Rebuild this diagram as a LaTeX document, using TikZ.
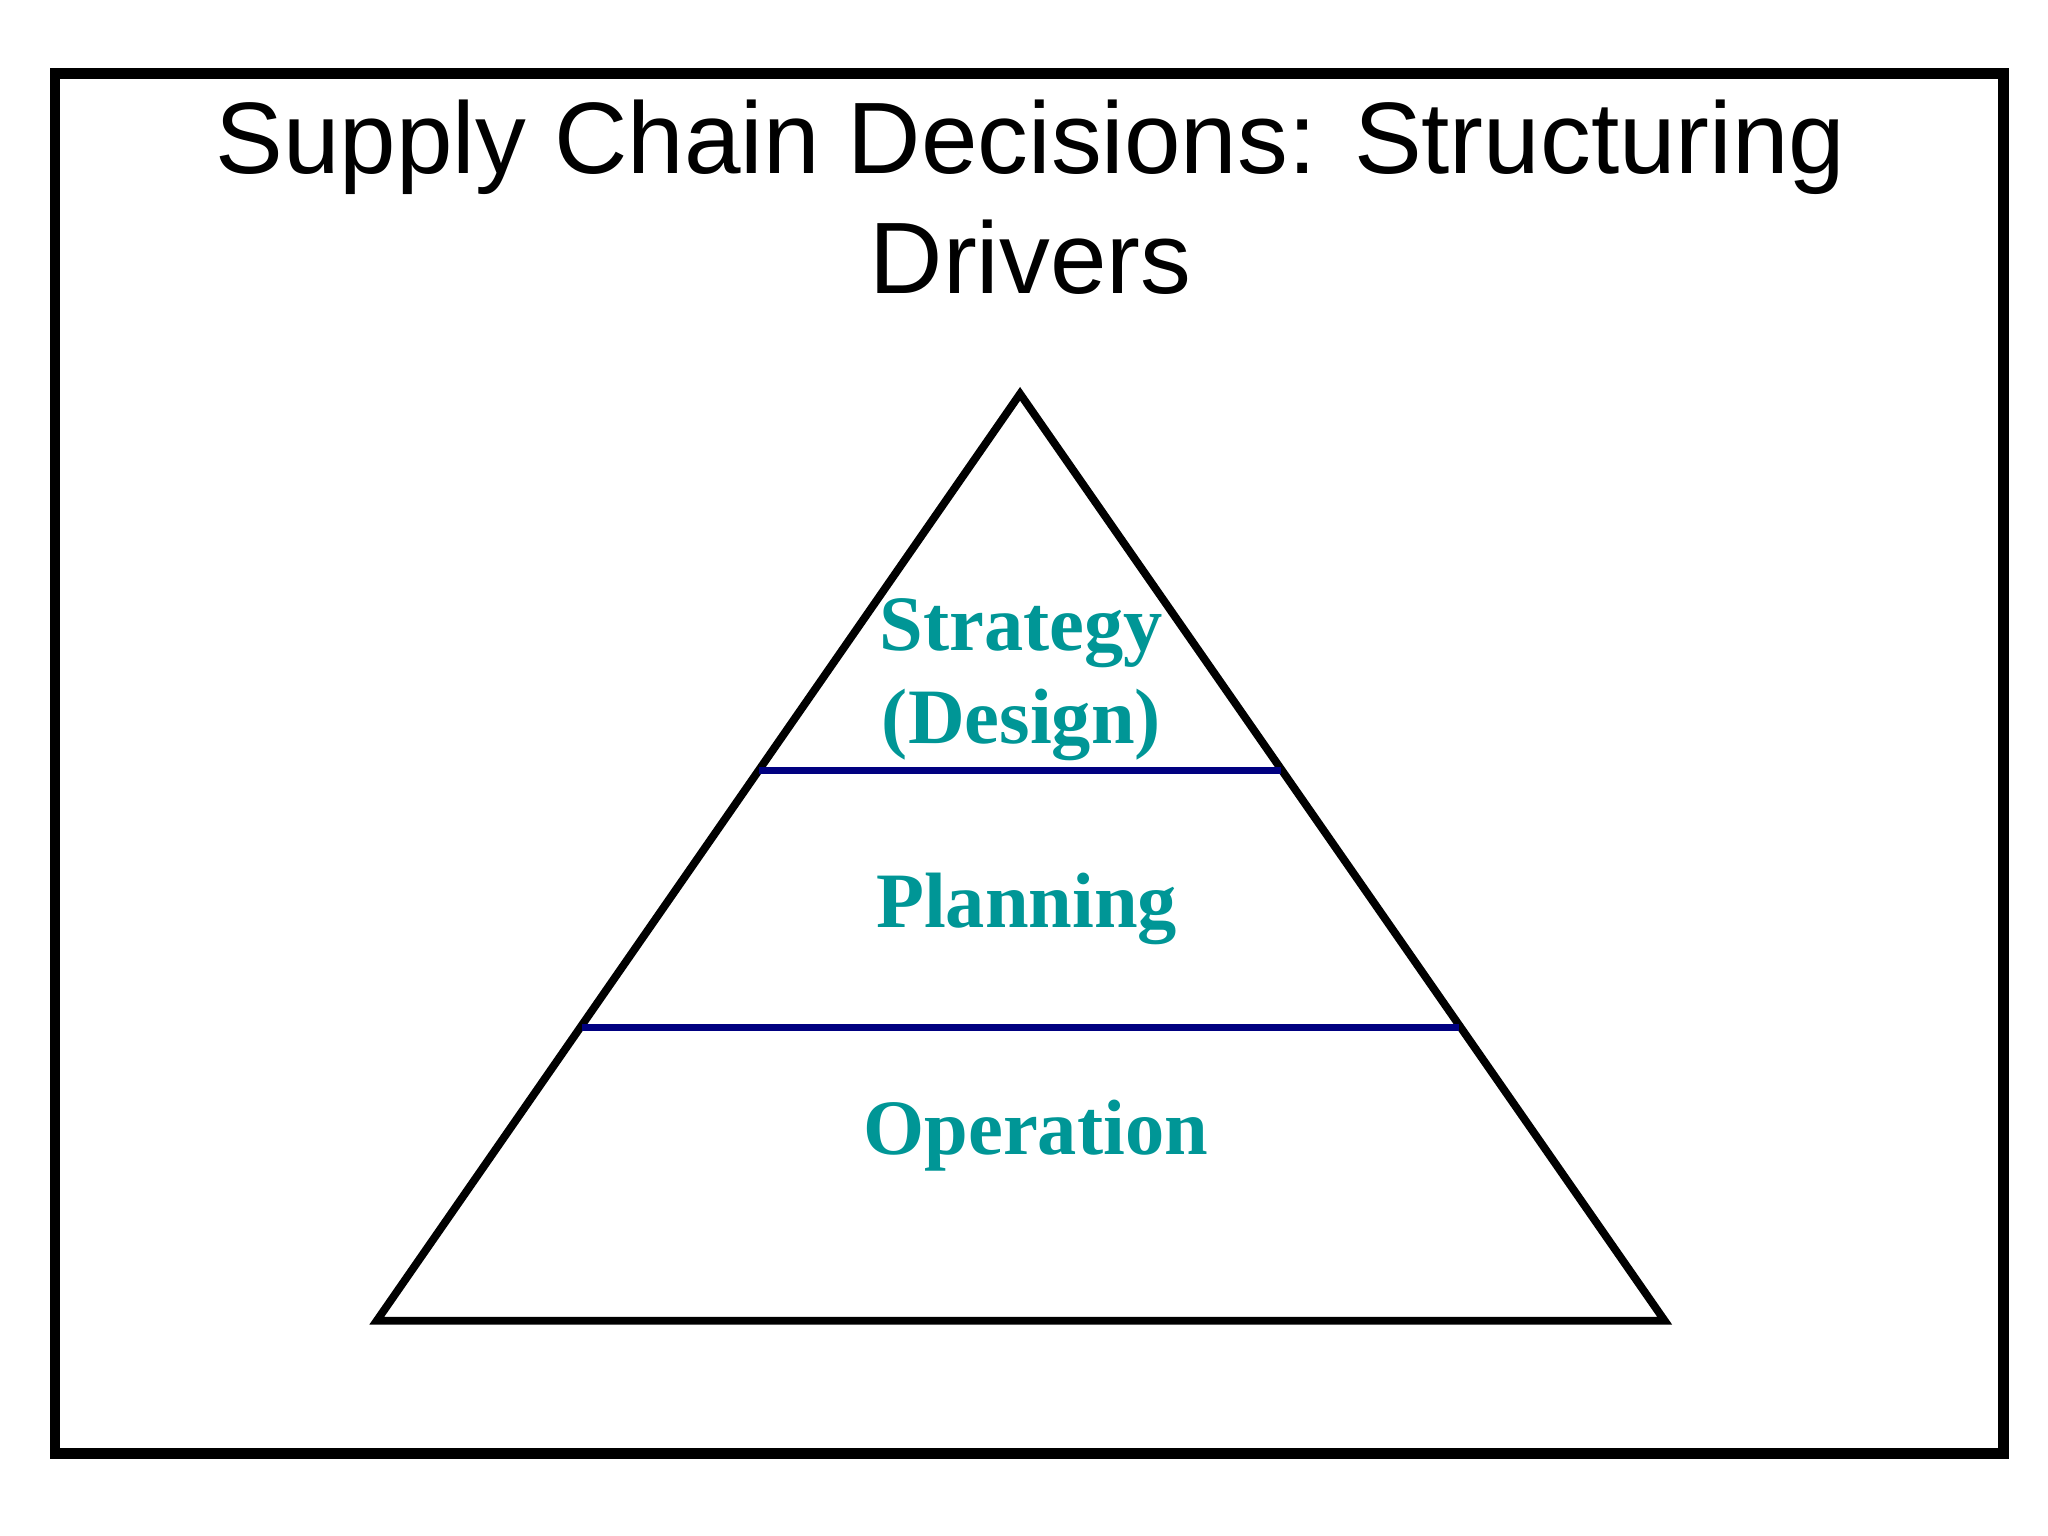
\documentclass[tikz,border=0pt]{standalone}
\usepackage{fontspec}
\setmainfont{Liberation Serif}
\newfontfamily\titlefont{Liberation Sans}
\definecolor{tealtxt}{RGB}{0,150,150}
\definecolor{navyln}{RGB}{0,0,128}
\begin{document}
\begin{tikzpicture}[x=0.01cm,y=-0.01cm,
  lvl/.style={font=\bfseries\fontsize{17pt}{20.2pt}\selectfont,text=tealtxt,align=center,inner sep=0pt},
  band/.style={navyln,line width=1.5pt}]
\useasboundingbox (0,0) rectangle (1560,1170);
\draw[line width=2.3pt] (42,56) rectangle (1526,1107);
\node[font=\titlefont\fontsize{22pt}{26pt}\selectfont,align=center] (title) at (785,150) {Supply Chain Decisions: Structuring\\Drivers};
\coordinate (apex) at (777,300);
\coordinate (bl) at (287,1006);
\coordinate (br) at (1268,1006);
\draw[line width=1.7pt] (apex) -- (br) -- (bl) -- cycle;
\coordinate (a1) at (578,587); \coordinate (b1) at (976,587);
\coordinate (a2) at (443,783); \coordinate (b2) at (1111,783);
\draw[band] (a1) -- (b1);
\draw[band] (a2) -- (b2);
\node[lvl] (strategy) at (778,518) {Strategy\\(Design)};
\node[lvl] (planning) at (782,692) {Planning};
\node[lvl] (operation) at (789,865) {Operation};
\end{tikzpicture}
\end{document}
